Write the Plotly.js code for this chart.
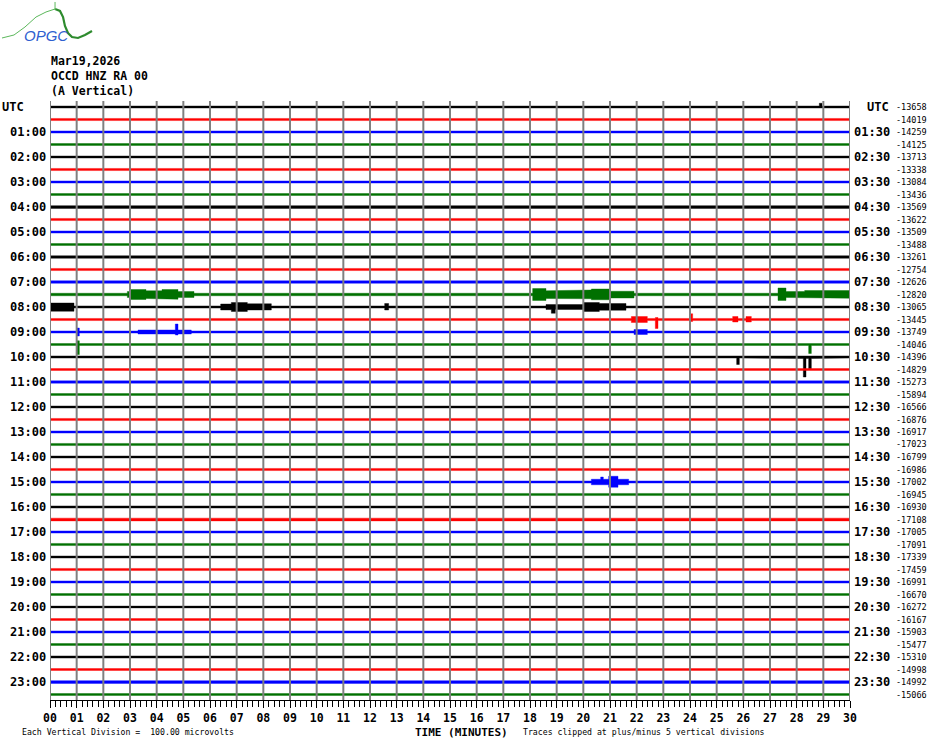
<!DOCTYPE html>
<html><head><meta charset="utf-8">
<script src="https://cdn.plot.ly/plotly-3.0.1.min.js"></script>
<style>html,body{margin:0;padding:0;background:#fff}#chart{width:930px;height:744px}</style>
</head><body><div id="chart"></div>
<script>
// ---- data ----
const minuteTicks = Array.from({length:31},(_,k)=>k);
const minuteLabels = ['00','01','02','03','04','05','06','07','08','09','10','11','12','13','14','15','16','17','18','19','20','21','22','23','24','25','26','27','28','29','30'];
const leftLabels = ['UTC','01:00','02:00','03:00','04:00','05:00','06:00','07:00','08:00','09:00','10:00','11:00','12:00','13:00','14:00','15:00','16:00','17:00','18:00','19:00','20:00','21:00','22:00','23:00'];
const rightLabels = ['UTC','01:30','02:30','03:30','04:30','05:30','06:30','07:30','08:30','09:30','10:30','11:30','12:30','13:30','14:30','15:30','16:30','17:30','18:30','19:30','20:30','21:30','22:30','23:30'];
const traceMeans = [-13658,-14019,-14259,-14125,-13713,-13338,-13084,-13436,-13569,-13622,-13509,-13488,
  -13261,-12754,-12626,-12820,-13065,-13445,-13749,-14046,-14396,-14829,-15273,-15894,
  -16566,-16876,-16917,-17023,-16799,-16986,-17002,-16945,-16930,-17108,-17005,-17091,
  -17339,-17459,-16991,-16670,-16272,-16167,-15903,-15477,-15310,-14998,-14992,-15066];
// baseline half-amplitude of each trace, in vertical divisions
const baseAmp = [0.4,0.42,0.42,0.4,0.4,0.42,0.42,0.4,0.55,0.42,0.42,0.4,
  0.5,0.42,0.5,0.5,0.42,0.42,0.42,0.4,0.42,0.4,0.46,0.4,
  0.4,0.42,0.42,0.42,0.4,0.42,0.42,0.42,0.42,0.55,0.42,0.42,
  0.4,0.42,0.42,0.4,0.36,0.4,0.42,0.4,0.42,0.4,0.55,0.4];
// events: [trace, startMin, endMin, upDiv, downDiv]
const events = [
  [0,28.85,28.95,1.5,0.6],
  [15,2.9,3.0,1.2,1.2],[15,3.0,3.6,2.0,2.0],[15,3.6,4.2,1.5,1.6],[15,4.2,4.8,2.0,1.9],[15,4.8,5.4,1.2,1.2],
  [15,18.1,18.6,2.4,2.4],[15,18.6,19.5,1.5,1.6],[15,19.5,20.3,1.8,1.7],[15,20.3,21.0,2.2,2.1],[15,21.0,21.9,1.3,1.4],
  [15,27.3,27.6,2.6,2.4],[15,27.6,28.3,1.2,1.2],[15,28.3,30,1.6,1.5],
  [16,0,0.9,1.6,1.7],[16,6.4,6.8,1.2,1.2],[16,6.8,7.4,1.8,1.8],[16,7.4,8.3,1.3,1.2],[16,12.55,12.7,1.4,1.2],
  [16,18.6,20.0,1.0,1.0],[16,18.8,18.95,0.9,2.5],[16,20.0,20.6,1.8,1.8],[16,20.6,21.6,1.4,1.3],
  [17,21.8,22.4,1.2,1.2],[17,22.7,22.8,0.8,3.6],[17,24.0,24.1,2.3,0.8],[17,25.6,25.8,1.2,1.0],[17,26.1,26.3,1.2,1.0],
  [18,1.0,1.1,1.6,1.6],[18,3.3,5.3,0.8,0.8],[18,4.7,4.8,3.2,1.2],[18,21.9,22.4,1.0,1.0],
  [19,1.0,1.1,1.5,4.0],[19,28.45,28.55,0.5,3.6],
  [20,25.75,25.85,0.6,3.0],[20,28.0,29.5,0.6,0.6],[20,28.25,28.35,0.6,8.0],[20,28.45,28.55,0.6,4.7],
  [30,20.3,21.7,1.1,1.1],[30,20.65,20.75,2.0,1.0],[30,20.95,21.3,2.3,2.1]
];
const traceColors = ['#000000','#ff0000','#0000ff','#007000'];

// ---- geometry helpers (page pixels -> paper) ----
const L=50, R=850, T=101, B=700;
const px = p => (p-L)/(R-L);
const py = p => (B-p)/(B-T);
const divToTrace = 0.2;
const y0 = -(107-T)/12.5, y1 = (B-107)/12.5;

function envelope(i){
  const evs = events.filter(e=>e[0]===i);
  const pts = new Set([0,30]);
  evs.forEach(e=>{pts.add(e[1]);pts.add(e[2]);});
  const xs=[...pts].sort((a,b)=>a-b);
  const ux=[],uy=[],lx=[],ly=[];
  for(let k=0;k<xs.length-1;k++){
    const a=xs[k],b=xs[k+1],m=(a+b)/2;
    let up=baseAmp[i],dn=baseAmp[i];
    evs.forEach(e=>{ if(e[1]<=m && m<=e[2]){up=Math.max(up,e[3]);dn=Math.max(dn,e[4]);} });
    ux.push(a,b); uy.push(i-up*divToTrace,i-up*divToTrace);
    lx.push(a,b); ly.push(i+dn*divToTrace,i+dn*divToTrace);
  }
  return {x:ux.concat(lx.slice().reverse()), y:uy.concat(ly.slice().reverse())};
}

const data=[];
for(let i=0;i<traceMeans.length;i++){
  const env=envelope(i);
  const c=traceColors[i%4];
  data.push({type:'scatter',mode:'lines',x:env.x,y:env.y,fill:'toself',fillcolor:c,
    line:{color:c,width:0.4},hoverinfo:'skip',showlegend:false});
}

const mono='DejaVu Sans Mono, monospace';
const ann=[];
function A(text,x,xa,y,font){ann.push({text:text,x:px(x),xanchor:xa,y:py(y),yanchor:'middle',xref:'paper',yref:'paper',showarrow:false,font:font});}
const bold12={family:mono,size:12,color:'#000',weight:'bold'};
leftLabels.forEach((t,k)=>{
  const yy=107+25*k;
  if(k===0) A(t,0,'left',yy,bold12); else A(t,48,'right',yy,bold12);
});
rightLabels.forEach((t,k)=>{ A(t,k===0?865:852,'left',107+25*k,bold12); });
traceMeans.forEach((v,i)=>{ A(String(v),894,'left',107+12.5*i,{family:mono,size:8.5,color:'#000'}); });
const header=['Mar19,2026','OCCD HNZ RA 00','(A Vertical)'];
header.forEach((t,k)=>{ A(t,49,'left',61+15*k,{family:mono,size:11.5,color:'#000',weight:'bold'}); });
A('TIME (MINUTES)',413,'left',732,{family:mono,size:11,color:'#000',weight:'bold'});
A('Each Vertical Division =  100.00 microvolts',20,'left',732,{family:mono,size:8.2,color:'#000'});
A('Traces clipped at plus/minus 5 vertical divisions',521,'left',732,{family:mono,size:8.2,color:'#000'});
A('OPGC',46,'center',35,{family:'Liberation Sans, sans-serif',size:15,color:'#2f5fd0',style:'italic'});

function pathFrom(pts){return pts.map((p,k)=>(k?'L':'M')+px(p[0]).toFixed(4)+','+py(p[1]).toFixed(4)).join(' ');}
const shapes=[
  {type:'path',xref:'paper',yref:'paper',path:pathFrom([[2,38],[14,35],[25,27],[36,17],[46,12],[55,9]]),line:{color:'#5cb85c',width:1}},
  {type:'path',xref:'paper',yref:'paper',path:pathFrom([[55,9],[60,11],[63,17],[65,26],[68,33],[72,37],[78,38],[85,35],[92,31]]),line:{color:'#2e8b2e',width:2.2}},
  {type:'path',xref:'paper',yref:'paper',path:pathFrom([[55,2],[55,10]]),line:{color:'#5cb85c',width:1}}
];
// minute grid lines drawn above the traces, as in the reference
minuteTicks.forEach(m=>{
  shapes.push({type:'line',xref:'x',yref:'paper',x0:m,x1:m,y0:0,y1:1,layer:'above',line:{color:'#808080',width:2}});
});

const layout={
  width:930,height:744,margin:{l:L,r:930-R,t:T,b:744-B},
  paper_bgcolor:'#fff',plot_bgcolor:'#fff',showlegend:false,
  xaxis:{range:[0,30],tickvals:minuteTicks,ticktext:minuteLabels,showgrid:false,
    zeroline:false,showline:true,linecolor:'#000',linewidth:1,ticks:'outside',ticklen:7,tickwidth:1,tickcolor:'#000',
    minor:{dtick:0.2,ticks:'outside',ticklen:6,tickwidth:1,tickcolor:'#000',showgrid:false},
    tickfont:{family:mono,size:11.5,color:'#000',weight:'bold'},fixedrange:true},
  yaxis:{range:[y1,y0],showgrid:false,zeroline:false,showticklabels:false,ticks:'',showline:false,fixedrange:true},
  annotations:ann,shapes:shapes
};
Plotly.newPlot('chart',data,layout,{displayModeBar:false,staticPlot:true});
</script></body></html>
